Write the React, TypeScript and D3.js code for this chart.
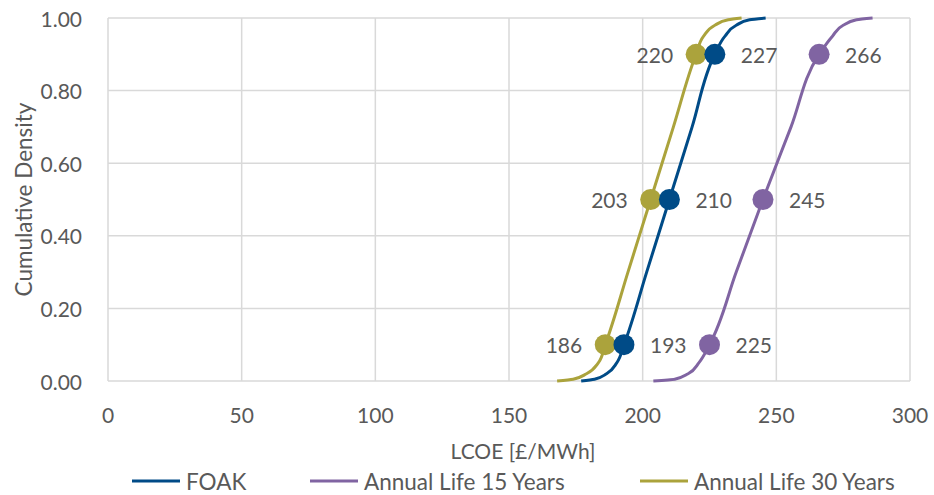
import React from "react";
import * as d3 from "d3";

// cumulative density levels at which the curves are sampled
const densityLevels = [0, 0.005, 0.02, 0.05, 0.1, 0.3, 0.5, 0.7, 0.9, 0.95, 0.98, 0.995, 1.0];

// LCOE values (£/MWh) at those density levels
const foakValues = [177, 182, 186.5, 190.3, 193, 201.5, 210, 218.5, 227, 230.8, 235, 240, 246];
const life15Values = [204, 212, 217, 221, 225, 235, 245, 255.5, 266, 271, 275, 280, 286];
const life30Values = [168, 174, 179, 183.4, 186, 194.5, 203, 211.5, 220, 222.8, 227, 232, 237];

// marked percentiles (P10, P50, P90)
const markerLevels = [0.1, 0.5, 0.9];
const foakMarkers = [193, 210, 227];
const life15Markers = [225, 245, 266];
const life30Markers = [186, 203, 220];

const xTicks = [0, 50, 100, 150, 200, 250, 300];
const yTicks = [0, 0.2, 0.4, 0.6, 0.8, 1.0];

const seriesNames = ["FOAK", "Annual Life 15 Years", "Annual Life 30 Years"];
const seriesColors = ["#004b87", "#8064a2", "#aba33c"];

const W = 934;
const H = 495;
const FONT = "Lato, 'Open Sans', sans-serif";
const TEXT = "#595959";
const GRID = "#d9d9d9";

export default function App() {
  const x = d3.scaleLinear().domain([0, 300]).range([108, 910]);
  const y = d3.scaleLinear().domain([0, 1]).range([381, 18]);

  const series = [
    { name: seriesNames[0], color: seriesColors[0], values: foakValues, markers: foakMarkers, side: 1 },
    { name: seriesNames[1], color: seriesColors[1], values: life15Values, markers: life15Markers, side: 1 },
    { name: seriesNames[2], color: seriesColors[2], values: life30Values, markers: life30Markers, side: -1 },
  ];

  const line = d3
    .line<[number, number]>()
    .x((d) => x(d[0]))
    .y((d) => y(d[1]))
    .curve(d3.curveMonotoneY);

  // draw order: gold, purple, then blue on top
  const drawOrder = [2, 1, 0];

  const legendItems = [
    { lineX: 132, idx: 0 },
    { lineX: 310, idx: 1 },
    { lineX: 640, idx: 2 },
  ];

  return (
    <svg
      width={W}
      height={H}
      style={{ position: "absolute", left: 0, top: 0, background: "#fff" }}
      fontFamily={FONT}
    >
      {/* gridlines */}
      {yTicks.map((t) => (
        <line key={"gy" + t} x1={x(0)} x2={x(300)} y1={y(t)} y2={y(t)} stroke={GRID} strokeWidth={1.5} />
      ))}
      {xTicks.map((t) => (
        <line key={"gx" + t} x1={x(t)} x2={x(t)} y1={y(0)} y2={y(1)} stroke={GRID} strokeWidth={1.5} />
      ))}

      {/* y tick labels */}
      {yTicks.map((t) => (
        <text
          key={"ty" + t}
          x={82}
          y={y(t)}
          textAnchor="end"
          dominantBaseline="central"
          fontSize={21}
          fill={TEXT}
        >
          {d3.format(".2f")(t)}
        </text>
      ))}
      {/* x tick labels */}
      {xTicks.map((t) => (
        <text key={"tx" + t} x={x(t)} y={423} textAnchor="middle" fontSize={21} fill={TEXT}>
          {t}
        </text>
      ))}

      {/* axis titles */}
      <text
        transform={`translate(23,${(y(0) + y(1)) / 2}) rotate(-90)`}
        textAnchor="middle"
        dominantBaseline="central"
        fontSize={22.5}
        fill={TEXT}
      >
        Cumulative Density
      </text>
      <text x={523} y={459} textAnchor="middle" fontSize={21} fill={TEXT}>
        LCOE [£/MWh]
      </text>

      {/* curves */}
      {drawOrder.map((i) => {
        const s = series[i];
        const pts: [number, number][] = s.values.map((v, k) => [v, densityLevels[k]]);
        return (
          <path key={"l" + i} d={line(pts) || ""} fill="none" stroke={s.color} strokeWidth={3} strokeLinejoin="round" />
        );
      })}

      {/* markers */}
      {drawOrder.map((i) => {
        const s = series[i];
        return (
          <g key={"m" + i}>
            {s.markers.map((v, k) => (
              <circle key={k} cx={x(v)} cy={y(markerLevels[k])} r={10.5} fill={s.color} />
            ))}
          </g>
        );
      })}

      {/* data labels */}
      {series.map((s, i) => (
        <g key={"dl" + i}>
          {s.markers.map((v, k) => (
            <text
              key={k}
              x={x(v) + (s.side > 0 ? 26 : -23)}
              y={y(markerLevels[k])}
              textAnchor={s.side > 0 ? "start" : "end"}
              dominantBaseline="central"
              fontSize={21}
              fill={TEXT}
            >
              {v}
            </text>
          ))}
        </g>
      ))}

      {/* legend */}
      {legendItems.map((it) => (
        <g key={"lg" + it.idx}>
          <line
            x1={it.lineX}
            x2={it.lineX + 48}
            y1={481}
            y2={481}
            stroke={seriesColors[it.idx]}
            strokeWidth={3}
          />
          <text x={it.lineX + 54} y={481} dominantBaseline="central" fontSize={22.5} fill={TEXT}>
            {seriesNames[it.idx]}
          </text>
        </g>
      ))}
    </svg>
  );
}
